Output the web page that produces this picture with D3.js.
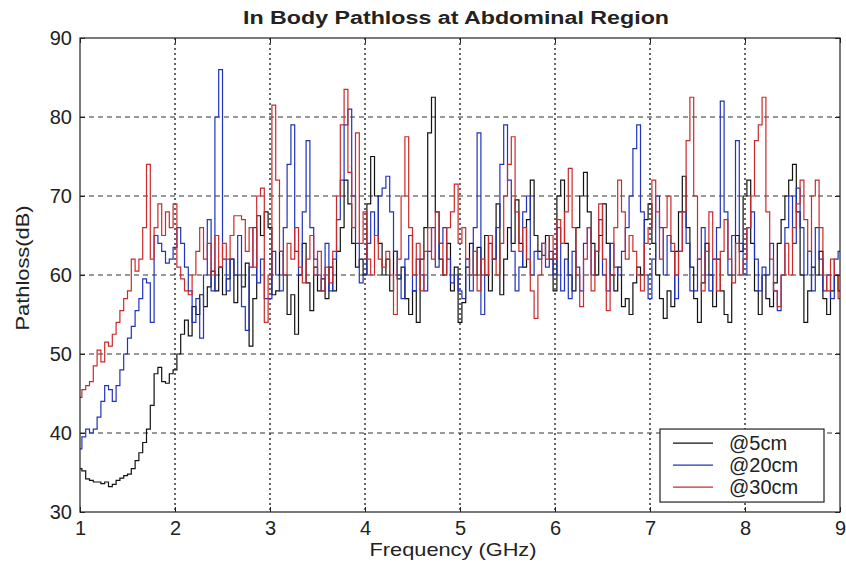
<!DOCTYPE html>
<html>
<head>
<meta charset="utf-8">
<script src="https://cdn.jsdelivr.net/npm/d3@7"></script>
<style>
  body { margin: 0; background: #fff; }
  text { font-family: "Liberation Sans", Arial, sans-serif; fill: #222; }
</style>
</head>
<body>
<svg id="chart"></svg>
<script>
// frequency axis: 1 to 9 GHz, one sample every 0.04 GHz
var fStart = 1, fStep = 0.04;

var pathloss5 = [
  35.5, 35.2, 34.2, 34.0, 33.8, 33.8, 33.6, 33.8, 33.2, 33.5, 34.0, 34.3, 34.6, 34.8, 35.5, 36.5, 37.5, 38.8, 40.5, 43.5, 47.5, 48.3, 46.5, 46.3, 47.5,
  48.0, 50.0, 52.5, 54.3, 52.3, 56.0, 55.0, 57.5, 56.0, 58.5, 60.5, 58.0, 61.0, 57.5, 59.5, 62.0, 56.5, 60.0, 58.5, 61.5, 51.0, 57.0, 67.5, 65.0, 68.0,
  66.0, 57.5, 58.0, 63.0, 60.0, 55.0, 57.5, 52.5, 60.0, 64.0, 59.0, 55.5, 61.0, 58.0, 59.5, 57.0, 61.0, 58.0, 63.0, 66.0, 72.0, 69.0, 64.0, 61.0, 62.0,
  60.0, 69.0, 75.0, 70.0, 64.0, 60.0, 62.0, 58.0, 63.0, 59.5, 61.0, 57.0, 55.0, 58.0, 54.0, 62.0, 66.0, 78.0, 82.5, 68.0, 62.0, 60.0, 64.0, 58.0, 61.0,
  54.0, 56.5, 61.0, 64.0, 60.0, 63.5, 60.0, 65.0, 58.0, 62.0, 69.0, 57.5, 62.0, 66.0, 64.0, 69.5, 64.0, 61.0, 67.0, 72.0, 65.0, 63.0, 62.5, 65.0, 62.0,
  58.0, 70.0, 72.0, 64.0, 60.0, 58.0, 66.0, 70.0, 73.0, 68.0, 64.0, 60.0, 65.0, 69.0, 64.0, 60.0, 58.0, 61.0, 56.0, 57.0, 55.0, 59.0, 61.0, 60.0, 67.0,
  69.0, 64.0, 60.0, 57.0, 54.5, 58.0, 56.0, 63.0, 68.0, 72.5, 66.0, 61.0, 57.0, 54.0, 59.0, 64.0, 60.0, 56.0, 62.0, 58.0, 55.0, 54.0, 60.0, 65.0, 63.0,
  70.0, 72.0, 64.0, 58.0, 55.0, 60.0, 57.0, 56.0, 59.0, 64.0, 67.0, 70.0, 72.0, 74.0, 68.0, 60.0, 54.0, 58.0, 61.0, 60.0, 63.0, 57.0, 55.0, 58.0, 60.0,
  58.0
];

var pathloss20 = [
  38.0, 39.5, 40.5, 40.0, 40.5, 42.0, 44.0, 46.0, 45.5, 44.0, 46.0, 48.0, 50.0, 52.0, 53.5, 55.5, 57.0, 59.5, 59.0, 54.0, 65.0, 64.0, 63.0, 61.5, 62.0,
  63.5, 66.0, 64.0, 61.0, 58.0, 54.0, 57.0, 52.0, 60.0, 67.0, 58.0, 80.0, 86.0, 62.0, 58.0, 62.0, 60.0, 65.0, 56.0, 53.0, 61.0, 66.0, 59.0, 62.0, 57.0,
  57.0, 63.0, 60.0, 58.0, 66.0, 74.0, 79.0, 63.0, 60.0, 68.0, 77.0, 66.0, 62.0, 60.0, 58.0, 64.0, 58.0, 62.0, 67.0, 72.0, 79.0, 81.0, 70.0, 64.0, 59.0,
  60.0, 64.0, 68.0, 65.0, 70.0, 71.0, 72.5, 68.0, 63.0, 60.0, 57.0, 62.0, 65.0, 58.0, 62.0, 60.0, 58.0, 63.0, 66.0, 61.0, 64.0, 66.0, 62.0, 59.0, 60.0,
  58.0, 57.0, 62.0, 58.0, 66.0, 78.0, 55.0, 60.0, 64.0, 62.0, 66.0, 74.0, 79.0, 72.0, 63.0, 58.0, 61.0, 68.0, 70.0, 60.0, 63.0, 62.0, 64.0, 61.0, 63.0,
  60.0, 66.0, 58.0, 62.0, 57.0, 63.0, 61.0, 58.0, 64.0, 66.0, 60.0, 63.0, 67.0, 60.0, 58.0, 64.0, 61.0, 60.0, 63.0, 66.0, 70.0, 76.0, 79.0, 68.0, 60.0,
  57.0, 62.0, 70.0, 66.0, 60.0, 65.0, 63.0, 57.0, 63.0, 68.0, 64.0, 58.0, 58.0, 62.0, 66.0, 60.0, 58.0, 62.0, 66.0, 82.0, 68.0, 60.0, 65.0, 77.0, 64.0,
  60.0, 66.0, 68.0, 62.0, 58.0, 61.0, 60.0, 64.0, 58.0, 55.5, 60.0, 66.0, 70.0, 64.0, 71.0, 66.0, 60.0, 63.0, 58.0, 66.0, 62.0, 58.0, 60.0, 57.0, 62.0,
  63.0
];

var pathloss30 = [
  44.5, 45.5, 46.0, 46.5, 48.5, 50.5, 49.0, 51.5, 51.0, 52.5, 54.0, 55.5, 57.0, 58.0, 62.0, 60.5, 62.0, 66.0, 74.0, 62.0, 66.0, 69.0, 65.0, 68.0, 66.0,
  69.0, 61.0, 59.5, 58.0, 57.5, 60.0, 63.0, 66.0, 62.0, 64.0, 60.0, 65.0, 61.0, 64.0, 62.0, 65.0, 67.5, 67.5, 67.0, 63.0, 66.0, 61.0, 70.0, 71.0, 54.0,
  60.0, 81.5, 72.0, 63.0, 60.0, 64.0, 62.0, 66.0, 61.0, 59.0, 62.0, 65.0, 60.0, 63.0, 58.0, 61.0, 59.0, 63.0, 70.0, 79.0, 83.5, 73.0, 66.0, 78.0, 64.0,
  68.0, 62.0, 60.0, 65.0, 62.0, 61.0, 63.0, 60.0, 55.0, 62.0, 70.0, 77.5, 66.0, 60.0, 64.0, 58.0, 63.0, 66.0, 62.0, 68.0, 64.0, 60.0, 66.0, 68.0, 71.5,
  64.0, 66.0, 62.0, 60.0, 63.0, 58.0, 62.0, 60.0, 65.0, 62.0, 60.0, 64.0, 70.0, 74.0, 77.5, 68.0, 63.0, 66.0, 62.0, 58.0, 54.5, 60.0, 64.0, 62.0, 65.0,
  62.0, 67.0, 64.0, 68.0, 73.5, 66.0, 60.0, 56.0, 62.0, 66.0, 58.0, 63.0, 69.0, 62.0, 55.5, 60.0, 66.0, 72.0, 68.0, 62.0, 65.0, 63.0, 60.0, 58.0, 64.0,
  66.0, 72.0, 68.0, 62.0, 66.0, 70.0, 64.0, 60.0, 63.0, 68.0, 77.0, 82.5, 70.0, 62.0, 58.0, 63.0, 68.0, 62.0, 58.0, 63.0, 67.0, 62.0, 59.0, 64.0, 60.0,
  62.0, 66.0, 70.0, 77.0, 79.0, 82.5, 68.0, 62.0, 58.0, 56.0, 60.0, 64.0, 60.0, 66.0, 69.0, 72.0, 67.0, 63.0, 70.0, 72.0, 66.0, 60.0, 58.0, 62.0, 60.0,
  57.0
];

var seriesNames = ["@5cm", "@20cm", "@30cm"];
var seriesColors = ["#111111", "#2233bb", "#cc2a2a"];
var xTicks = [1, 2, 3, 4, 5, 6, 7, 8, 9];
var yTicks = [30, 40, 50, 60, 70, 80, 90];

var margin = {top: 38, right: 6, bottom: 55, left: 80},
    width = 846 - margin.left - margin.right,
    height = 567 - margin.top - margin.bottom;

var svg = d3.select("#chart")
    .attr("width", 846)
    .attr("height", 567);

var g = svg.append("g")
    .attr("transform", "translate(" + margin.left + "," + margin.top + ")");

var x = d3.scaleLinear().domain([1, 9]).range([0, width]);
var y = d3.scaleLinear().domain([30, 90]).range([height, 0]);

// grid
g.selectAll(".hgrid")
    .data(yTicks.slice(1, -1))
  .enter().append("line")
    .attr("x1", 0).attr("x2", width)
    .attr("y1", function(d) { return y(d); })
    .attr("y2", function(d) { return y(d); })
    .attr("stroke", "#333")
    .attr("stroke-dasharray", "5,4");

g.selectAll(".vgrid")
    .data(xTicks.slice(1, -1))
  .enter().append("line")
    .attr("y1", 0).attr("y2", height)
    .attr("x1", function(d) { return x(d); })
    .attr("x2", function(d) { return x(d); })
    .attr("stroke", "#333")
    .attr("stroke-width", 1.5)
    .attr("stroke-dasharray", "2,3");

// lines, stepped like the original dense trace
var all = [pathloss5, pathloss20, pathloss30];
var line = d3.line()
    .curve(d3.curveStep)
    .x(function(d, i) { return x(fStart + i * fStep); })
    .y(function(d) { return y(d); });

all.forEach(function(vals, k) {
  g.append("path")
      .datum(vals)
      .attr("fill", "none")
      .attr("stroke", seriesColors[k])
      .attr("stroke-width", 1.2)
      .attr("d", line);
});

// axes box
g.append("rect")
    .attr("width", width).attr("height", height)
    .attr("fill", "none").attr("stroke", "#222").attr("stroke-width", 1.2);

var xAxis = g.append("g")
    .attr("transform", "translate(0," + height + ")")
    .call(d3.axisBottom(x).tickValues(xTicks).tickSize(-5).tickPadding(9));
var yAxis = g.append("g")
    .call(d3.axisLeft(y).tickValues(yTicks).tickSize(-5).tickPadding(8));
g.append("g")
    .call(d3.axisTop(x).tickValues(xTicks).tickSize(-5).tickFormat(""));
g.append("g")
    .attr("transform", "translate(" + width + ",0)")
    .call(d3.axisRight(y).tickValues(yTicks).tickSize(-5).tickFormat(""));

g.selectAll(".domain").remove();
g.selectAll(".tick line").attr("stroke", "#222");
[xAxis, yAxis].forEach(function(a) {
  a.selectAll("text")
      .style("font-family", "'Liberation Sans', Arial, sans-serif")
      .style("font-size", "20px")
      .attr("fill", "#222");
});

// title and axis labels (stretched to the widths of the original)
svg.append("text")
    .attr("x", 456).attr("y", 24)
    .attr("text-anchor", "middle")
    .attr("textLength", 426)
    .attr("lengthAdjust", "spacingAndGlyphs")
    .style("font-weight", "bold")
    .style("font-size", "18px")
    .text("In Body Pathloss at Abdominal Region");

svg.append("text")
    .attr("x", 453).attr("y", 556)
    .attr("text-anchor", "middle")
    .attr("textLength", 167)
    .attr("lengthAdjust", "spacingAndGlyphs")
    .style("font-size", "19px")
    .text("Frequency (GHz)");

svg.append("text")
    .attr("transform", "translate(29,268) rotate(-90)")
    .attr("text-anchor", "middle")
    .attr("textLength", 125)
    .attr("lengthAdjust", "spacingAndGlyphs")
    .style("font-size", "19px")
    .text("Pathloss(dB)");

// legend
var legend = g.append("g")
    .attr("transform", "translate(" + (x(7.1) + 0.5) + "," + (y(40.5)) + ")");
legend.append("rect")
    .attr("width", 164).attr("height", 73)
    .attr("fill", "#fff").attr("stroke", "#222").attr("stroke-width", 1.2);
seriesNames.forEach(function(name, k) {
  var ly = 14 + k * 22;
  legend.append("line")
      .attr("x1", 13).attr("x2", 53)
      .attr("y1", ly).attr("y2", ly)
      .attr("stroke", seriesColors[k]).attr("stroke-width", 1.2);
  legend.append("text")
      .attr("x", 69).attr("y", ly + 7)
      .style("font-size", "20px")
      .text(name);
});
</script>
</body>
</html>
